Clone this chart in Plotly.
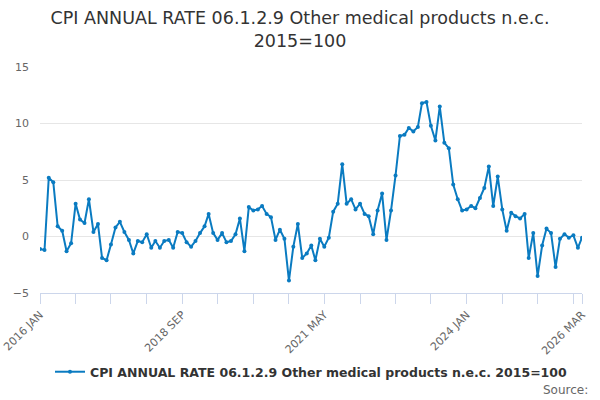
import pandas as pd
import plotly.graph_objects as go

# Monthly annual rate (%), 2016 JAN .. 2026 MAR
start_month = "2016-01-01"
rate = [
    -1.1, -1.2, 5.2, 4.8, 0.9, 0.5, -1.3, -0.6, 2.9, 1.5, 1.2, 3.3,
    0.4, 1.1, -1.9, -2.1, -0.7, 0.8, 1.3, 0.4, -0.3, -1.5, -0.4, -0.5,
    0.2, -1.0, -0.4, -1.0, -0.4, -0.3, -1.0, 0.4, 0.3, -0.5, -0.9, -0.4,
    0.3, 0.9, 2.0, 0.3, -0.3, 0.3, -0.5, -0.4, 0.2, 1.6, -1.3, 2.6,
    2.3, 2.4, 2.7, 2.0, 1.7, -0.3, 0.6, -0.2, -3.9, -0.9, 1.1, -1.9,
    -1.5, -0.8, -2.1, -0.2, -0.9, -0.1, 2.2, 2.9, 6.4, 2.9, 3.3, 2.4,
    2.9, 2.0, 1.8, 0.2, 2.3, 3.8, -0.3, 2.3, 5.4, 8.9, 9.0, 9.6,
    9.3, 9.7, 11.8, 11.9, 9.8, 8.5, 11.5, 8.3, 7.8, 4.6, 3.3, 2.3,
    2.4, 2.7, 2.5, 3.4, 4.3, 6.2, 2.7, 5.3, 2.4, 0.5, 2.1, 1.8,
    1.6, 2.0, -1.9, 0.3, -3.5, -0.8, 0.7, 0.3, -2.7, -0.2, 0.2, -0.1,
    0.1, -1.0, -0.1,
]
months = pd.date_range(start_month, periods=len(rate), freq="MS")

# ticks every 8 months, labels every 32 months, plus the last month
tick_idx = list(range(0, len(rate), 8)) + [len(rate) - 1]
tick_vals = [months[i] for i in tick_idx]
tick_text = [months[i].strftime("%Y %b").upper() if (i % 32 == 0 or i == len(rate) - 1) else ""
             for i in tick_idx]

series_name = "CPI ANNUAL RATE 06.1.2.9 Other medical products n.e.c. 2015=100"
blue = "#0a7bc1"

fig = go.Figure()
fig.add_trace(go.Scatter(
    x=months, y=rate, name=series_name, mode="lines+markers",
    line=dict(color=blue, width=2),
    marker=dict(color=blue, size=4),
))

fig.update_layout(
    width=600, height=400,
    font=dict(family="DejaVu Sans", color="#333333"),
    paper_bgcolor="white", plot_bgcolor="white",
    title=dict(text="CPI ANNUAL RATE 06.1.2.9 Other medical products n.e.c.<br>2015=100",
               x=0.5, xanchor="center", yref="container", y=0.94, yanchor="middle",
               font=dict(size=17.5, color="#333333")),
    margin=dict(l=40, r=18, t=67, b=107),
    showlegend=True,
    legend=dict(orientation="h", x=0.5, xanchor="center", y=-0.35, yanchor="middle",
                font=dict(size=12.5, color="#333333", weight="bold")),
    xaxis=dict(
        range=[months[0], months[-1]], automargin=False,
        tickmode="array", tickvals=tick_vals, ticktext=tick_text,
        tickangle=-45, tickfont=dict(size=11, color="#666666"),
        ticklabeloverflow="allow",
        showgrid=False, showline=True, linecolor="#ccd6eb", linewidth=1,
        ticks="outside", ticklen=10, tickcolor="#ccd6eb",
        zeroline=False,
    ),
    yaxis=dict(
        range=[-5, 15], tickvals=[-5, 0, 5, 10, 15], automargin=False,
        tickfont=dict(size=11, color="#666666"),
        showgrid=True, gridcolor="#e6e6e6", zeroline=False, showline=False,
        ticks="", ticklabelstandoff=10,
    ),
    annotations=[dict(text="Source:", xref="paper", yref="paper", x=1.015, y=-0.43,
                      xanchor="right", yanchor="middle", showarrow=False,
                      font=dict(size=12, color="#666666"))],
)

fig.write_html("out.html", config={"displayModeBar": False},
               post_script="document.body.style.margin='0px';")
